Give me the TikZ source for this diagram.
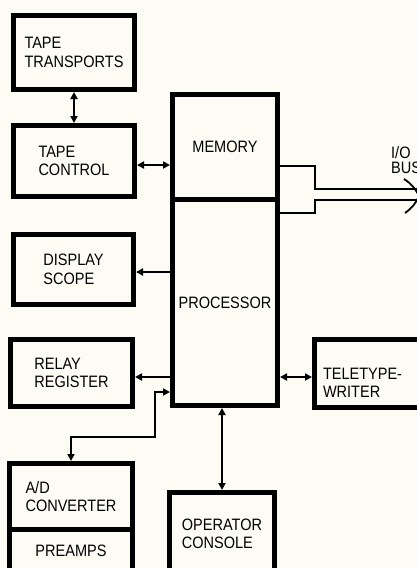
\documentclass[tikz,border=0pt]{standalone}
\usepackage{fontspec}
\setmainfont{Liberation Sans}[FakeStretch=0.88]
\usetikzlibrary{arrows.meta}
\definecolor{paper}{RGB}{252,252,245}
\begin{document}
\begin{tikzpicture}[x=1pt,y=-1pt,
  blk/.style={draw, line width=5pt, inner sep=0pt, align=left, fill=paper,
    font=\fontsize{16.5}{18.5}\selectfont},
  con/.style={line width=2pt},
  onetip/.style={-{Triangle[length=7pt,width=7pt]}},
  twotip/.style={{Triangle[length=7pt,width=7pt]}-{Triangle[length=7pt,width=7pt]}},
  bus/.style={line width=1.8pt},
  lbl/.style={inner sep=0pt, align=left, font=\fontsize{16.5}{15}\selectfont}]
\fill[paper] (0,0) rectangle (417,568);
\useasboundingbox (0,0) rectangle (417,568);
% blocks
\node[blk, minimum width=121pt, minimum height=74pt] (TT) at (74,52.5) {TAPE\\TRANSPORTS};
\node[blk, minimum width=121pt, minimum height=71pt] (TC) at (74,161) {TAPE\\CONTROL};
\node[blk, minimum width=120pt, minimum height=70pt] (DS) at (73.5,269.5) {DISPLAY\\SCOPE};
\node[blk, minimum width=122pt, minimum height=67pt] (RR) at (71.5,373) {RELAY\\REGISTER};
\node[blk, minimum width=123pt, minimum height=66pt] (AD) at (71,496.5) {A/D\\CONVERTER};
\node[blk, minimum width=123pt, minimum height=43pt] (PR) at (71,551) {PREAMPS};
\node[blk, minimum width=105pt, minimum height=105pt] (MEM) at (225,147) {MEMORY};
\node[blk, minimum width=105pt, minimum height=206pt] (PROC) at (225,302.5) {PROCESSOR};
\node[blk, minimum height=68pt, text width=91pt, inner xsep=8.5pt, text depth=-2pt] (TW) at (368.5,373.5) {TELETYPE-\\WRITER};
\node[blk, minimum width=105pt, minimum height=83pt] (OC) at (222,534) {OPERATOR\\CONSOLE};
% connectors
\draw[con,twotip] (TT.south) -- (TC.north);
\draw[con,twotip] ([yshift=-4pt]TC.east) -- ([yshift=-4pt]TC.east -| MEM.west);
\draw[con,onetip] ([yshift=-2.5pt]DS.east -| PROC.west) -- ([yshift=-2.5pt]DS.east);
\draw[con,onetip] ([yshift=-4pt]RR.east -| PROC.west) -- ([yshift=-4pt]RR.east);
\coordinate (knee) at (155,437);
\draw[con,twotip] (AD.north) -- (AD.north |- knee) -- (knee) -- (knee |- 0,392) -- (PROC.west |- 0,392);
\draw[con,twotip] ([yshift=-3.5pt]PROC.east |- TW.west) -- ([yshift=-3.5pt]TW.west);
\draw[con,twotip] (OC.north) -- (OC.north |- PROC.south);
% I/O bus
\draw[bus] (MEM.east |- 0,166) -- (315,166) -- (315,189) -- (420,189);
\draw[bus] (PROC.east |- 0,213) -- (315,213) -- (315,200) -- (420,200);
\draw[bus] (404,179) to[bend left=15] (419,196) to[bend left=15] (405,213);
\node[lbl, anchor=north west] (io) at (391,146) {I/O\\BUS};
\end{tikzpicture}
\end{document}
